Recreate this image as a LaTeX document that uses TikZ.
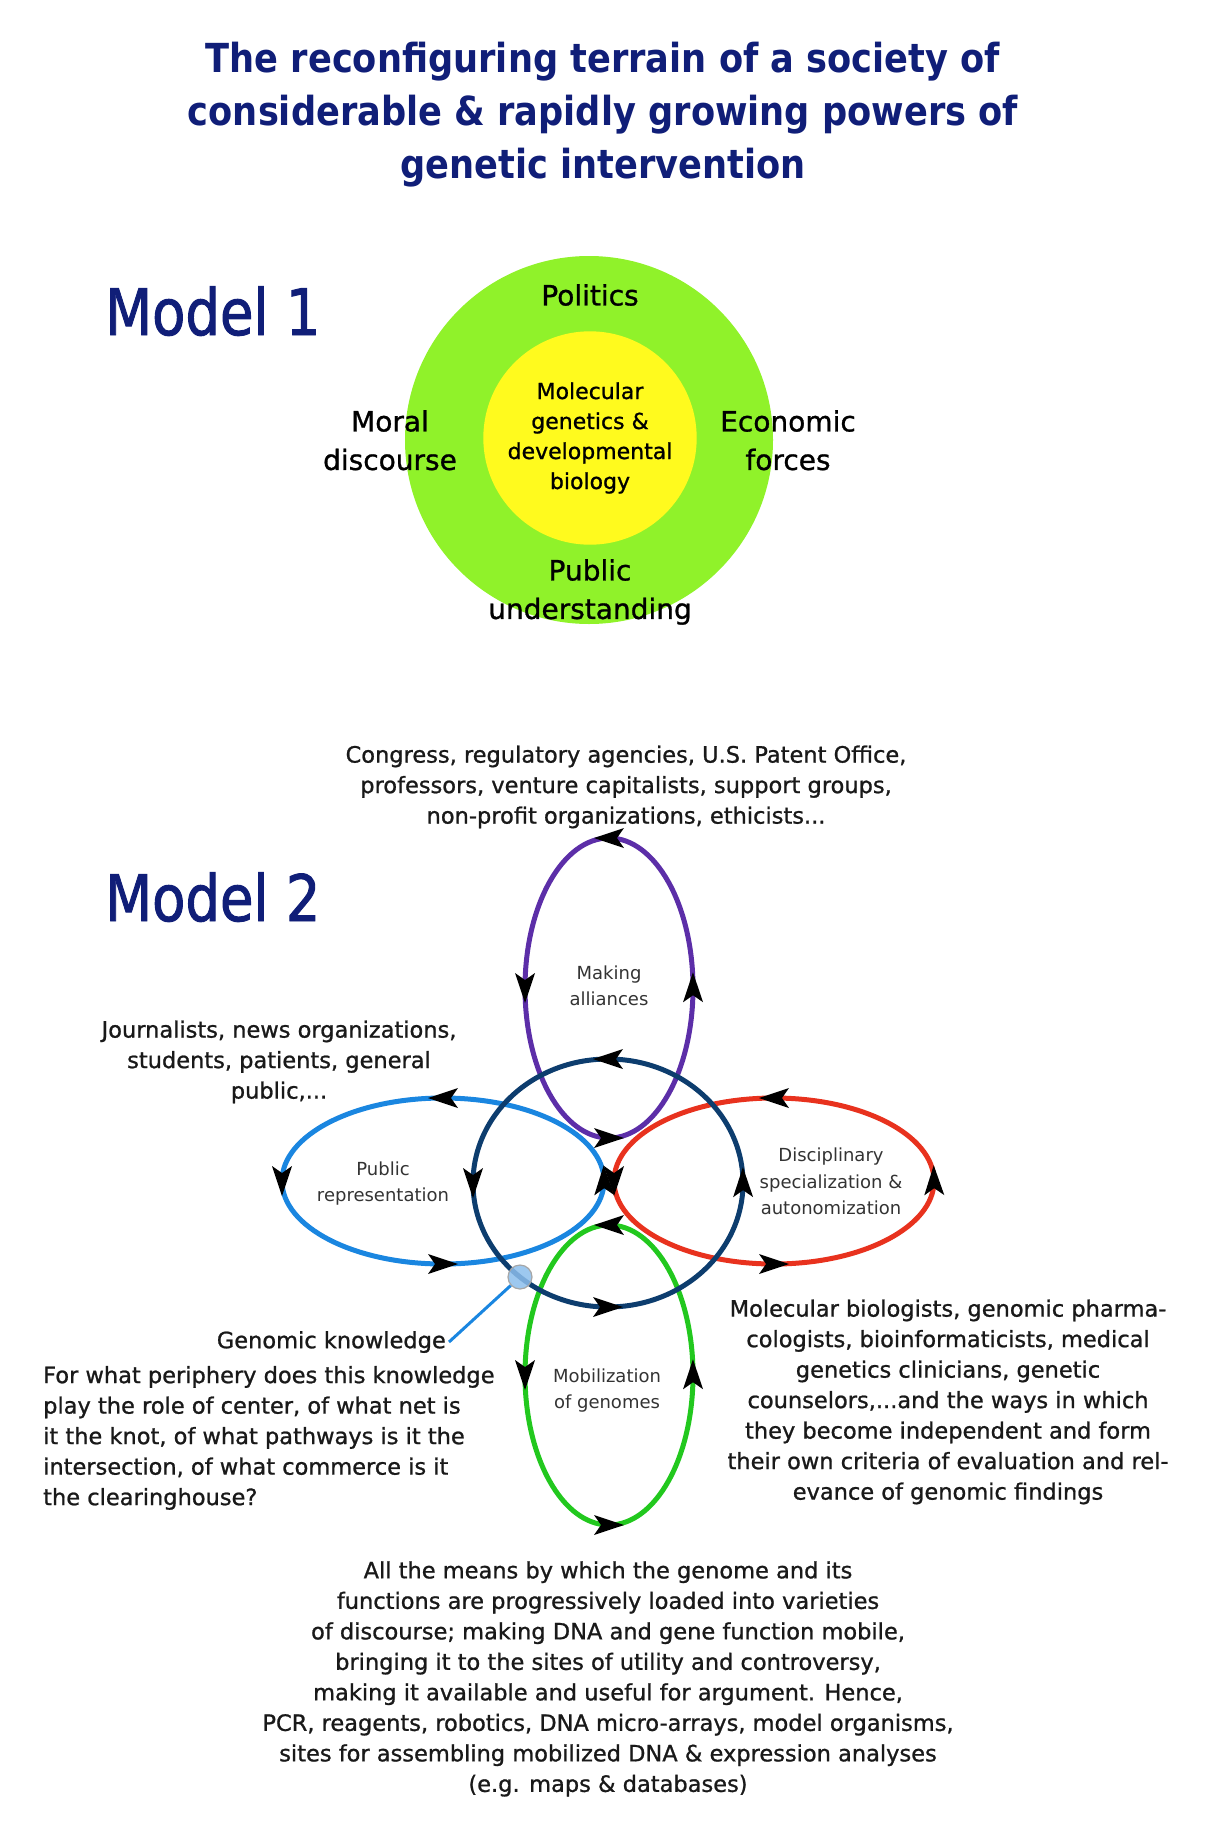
\documentclass[tikz,border=0pt]{standalone}
\usepackage{fontspec}
\setmainfont{DejaVu Sans}
\newfontfamily\bodyfont{DejaVu Sans}[FakeBold=1.0]
\newfontfamily\headfont{DejaVu Sans}[FakeStretch=0.88]
\newfontfamily\modelfont{DejaVu Sans}[FakeStretch=0.85, FakeBold=1.5]
\usetikzlibrary{decorations.markings}

\definecolor{titleblue}{RGB}{16,30,120}
\definecolor{limegreen}{RGB}{144,242,42}
\definecolor{coreyellow}{RGB}{255,250,30}
\definecolor{allypurple}{RGB}{92,46,168}
\definecolor{knotnavy}{RGB}{13,61,110}
\definecolor{pubblue}{RGB}{26,134,224}
\definecolor{discred}{RGB}{232,50,30}
\definecolor{mobgreen}{RGB}{34,200,30}
\definecolor{dotblue}{RGB}{140,190,236}

% notched black head, centred on the mark
\newcommand{\ringhead}{\fill[black] (15pt,0pt) -- (-15pt,10pt) -- (-8pt,0pt) -- (-15pt,-10pt) -- cycle;}

\tikzset{
    heading/.style={text=titleblue, font=\headfont\bfseries\fontsize{40}{53}\selectfont},
    model/.style={text=titleblue, inner sep=0pt, font=\modelfont\fontsize{64}{70}\selectfont},
    sphere/.style={font=\bodyfont\fontsize{28}{38.5}\selectfont},
    body/.style={text=black!90, font=\bodyfont\fontsize{22.5}{30.5}\selectfont},
    ringlabel/.style={text=black!80, font=\fontsize{18}{26.5}\selectfont},
    flowring/.style={line width=5pt, postaction={decorate}, decoration={markings,
        mark=at position 0.001 with {\ringhead},
        mark=at position 0.25 with {\ringhead},
        mark=at position 0.5 with {\ringhead},
        mark=at position 0.75 with {\ringhead}}},
    pointer/.style={draw=pubblue, line width=3pt}
}

\begin{document}
\begin{tikzpicture}[x=1pt,y=-1pt]
    \useasboundingbox (0,0) rectangle (1210,1836);

    \node[heading] (title) at (603,115) {
        \begin{tabular}{c}
            The reconfiguring terrain of a society of \\
            considerable \& rapidly growing powers of \\
            genetic intervention \\
        \end{tabular}
    };

    % Model 1
    \node[model, anchor=base west] (model one) at (105,335) {Model 1};

    \node[circle, fill=limegreen, minimum size=368pt] (society) at (589,440) {};
    \node[circle, fill=coreyellow, minimum size=212pt, inner sep=0pt,
          font=\bodyfont\fontsize{22}{30}\selectfont] (core) at (590,438) {
        \begin{tabular}{c}
            Molecular \\
            genetics \& \\
            developmental \\
            biology \\
        \end{tabular}
    };

    \node[sphere] (politics) at (590,295) {Politics};
    \node[sphere] (moral) at (390,443) {
        \begin{tabular}{c}
            Moral \\
            discourse \\
        \end{tabular}
    };
    \node[sphere] (economic) at (788,443) {
        \begin{tabular}{c}
            Economic \\
            forces \\
        \end{tabular}
    };
    \node[sphere] (public) at (590,592) {
        \begin{tabular}{c}
            Public \\
            understanding \\
        \end{tabular}
    };

    % Model 2
    \node[model, anchor=base west] (model two) at (105,921) {Model 2};

    \node[body] (allies) at (626,787) {
        \begin{tabular}{c}
            Congress, regulatory agencies, U.S. Patent Office, \\
            professors, venture capitalists, support groups, \\
            non-profit organizations, ethicists... \\
        \end{tabular}
    };

    \coordinate (ally ring) at (609,988);
    \coordinate (pub ring) at (443,1181);
    \coordinate (disc ring) at (774,1181);
    \coordinate (mob ring) at (609,1375);
    \coordinate (knot ring) at (608,1183);

    \draw[flowring, draw=allypurple] (ally ring) ellipse [x radius=84pt, y radius=150pt];
    \draw[flowring, draw=pubblue] (pub ring) ellipse [x radius=161pt, y radius=83pt];
    \draw[flowring, draw=discred] (disc ring) ellipse [x radius=160pt, y radius=83pt];
    \draw[flowring, draw=mobgreen] (mob ring) ellipse [x radius=84pt, y radius=150pt];
    \draw[flowring, draw=knotnavy] (knot ring) ellipse [x radius=135pt, y radius=124pt];

    \node[ringlabel] (alliances) at (609,987) {
        \begin{tabular}{c}
            Making \\
            alliances \\
        \end{tabular}
    };
    \node[ringlabel] (representation) at (383,1183) {
        \begin{tabular}{c}
            Public \\
            representation \\
        \end{tabular}
    };
    \node[ringlabel] (disciplinary) at (831,1183) {
        \begin{tabular}{c}
            Disciplinary \\
            specialization \& \\
            autonomization \\
        \end{tabular}
    };
    \node[ringlabel] (mobilization) at (607,1390) {
        \begin{tabular}{c}
            Mobilization \\
            of genomes \\
        \end{tabular}
    };

    \node[circle, minimum size=24pt, inner sep=0pt, fill=dotblue, fill opacity=0.85,
          draw=gray!70, line width=1.2pt] (knot) at (520,1277) {};

    \node[body] (journalists) at (279,1062) {
        \begin{tabular}{c}
            Journalists, news organizations, \\
            students, patients, general \\
            public,... \\
        \end{tabular}
    };

    \node[body, anchor=east, inner sep=3pt] (gk label) at (449,1342) {Genomic knowledge};
    \draw[pointer] (knot) -- (gk label.east);

    \node[body, anchor=west, inner sep=0pt] (gk question) at (43,1438) {
        \begin{tabular}{@{}l@{}}
            For what periphery does this knowledge \\
            play the role of center, of what net is \\
            it the knot, of what pathways is it the \\
            intersection, of what commerce is it \\
            the clearinghouse? \\
        \end{tabular}
    };

    \node[body] (specialists) at (948,1402) {
        \begin{tabular}{c}
            Molecular biologists, genomic pharma- \\
            cologists, bioinformaticists, medical \\
            genetics clinicians, genetic \\
            counselors,...and the ways in which \\
            they become independent and form \\
            their own criteria of evaluation and rel- \\
            evance of genomic findings \\
        \end{tabular}
    };

    \node[body] (means) at (608,1679) {
        \begin{tabular}{c}
            All the means by which the genome and its \\
            functions are progressively loaded into varieties \\
            of discourse; making DNA and gene function mobile, \\
            bringing it to the sites of utility and controversy, \\
            making it available and useful for argument. Hence, \\
            PCR, reagents, robotics, DNA micro-arrays, model organisms, \\
            sites for assembling mobilized DNA \& expression analyses \\
            (e.g. maps \& databases) \\
        \end{tabular}
    };

\end{tikzpicture}
\end{document}
